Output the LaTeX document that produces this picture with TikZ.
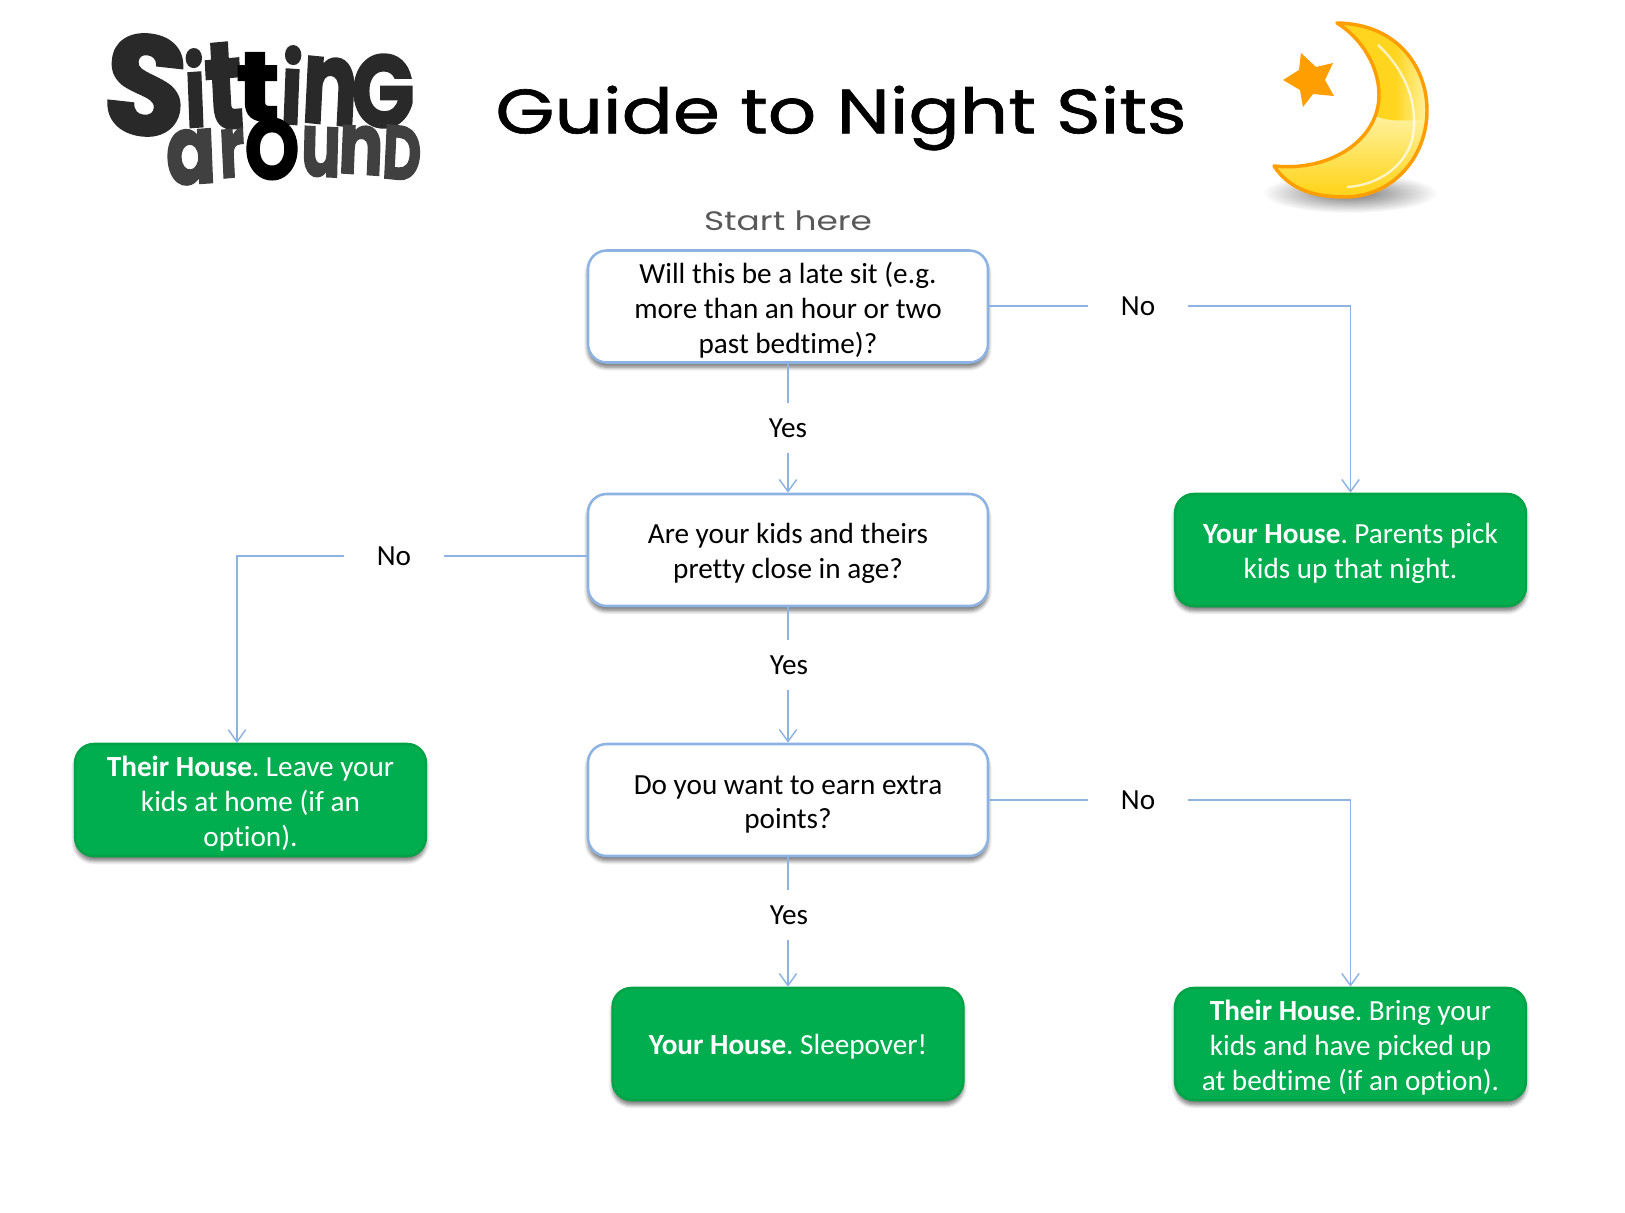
\documentclass[tikz,border=0pt]{standalone}
\usepackage{fontspec}
\setmainfont[Ligatures=NoCommon]{Carlito}
\newfontfamily\titlefont[FakeBold=1]{Poppins}
\newfontfamily\startfont{Poppins}
\newfontfamily\logofont[FakeBold=2]{Poppins Bold}
\usetikzlibrary{shadows.blur,arrows.meta,calc,fadings}
\definecolor{flowblue}{HTML}{8DB3E2}
\definecolor{flowgreen}{HTML}{00AE50}
\definecolor{flowgreenedge}{HTML}{00A346}
\definecolor{moonedge}{HTML}{FF9E00}
\definecolor{moongold}{HTML}{FFD51F}
\definecolor{moonpale}{HTML}{FFF3A5}
\newcommand{\logoletter}[8]{\node[logochar,text=#6,xscale=#3,yscale=#4,rotate=#5] (#7) at (#1,#2) {#8};}
\tikzset{
  x=0.75pt,y=-0.75pt,
  boxbase/.style={rounded corners=14pt,line width=1.9pt,minimum height=84pt,align=center,inner sep=0pt,
     font=\fontsize{21.9}{26.2}\selectfont\frenchspacing,
     blur shadow={shadow xshift=0pt,shadow yshift=-3.5pt,shadow blur steps=6,shadow blur radius=3pt,shadow opacity=55}},
  drop/.style={execute at begin node={\rule{0pt}{#1pt}}},
  question/.style={boxbase,draw=flowblue,fill=white,minimum width=300pt,text=black},
  answer/.style={boxbase,draw=flowgreenedge,fill=flowgreen,minimum width=263pt,text=white},
  elabel/.style={inner sep=0pt,minimum width=75pt,minimum height=37.5pt,font=\fontsize{21.9}{26}\selectfont,text=black},
  ylabel/.style={inner sep=0pt,minimum width=40pt,minimum height=37.5pt,font=\fontsize{21.9}{26}\selectfont,text=black},
  flow/.style={draw=flowblue,line width=1.1pt},
  flowarrow/.style={flow,-{Straight Barb[length=9pt,width=13pt,line width=1.1pt]}},
  logochar/.style={inner sep=0pt,outer sep=0pt,transform shape,font=\logofont\fontsize{100}{100}\selectfont},
}
\begin{document}
\begin{tikzpicture}
\useasboundingbox (0,0) rectangle (1625,1213);

% Logo
\logoletter{146}{85}{1.00}{1.05}{-6}{black!84}{l1}{S}
\logoletter{195}{88}{0.55}{0.73}{3}{black!84}{l2}{i}
\logoletter{224}{86}{0.70}{0.93}{4}{black!84}{l3}{t}
\logoletter{258}{87}{0.80}{0.74}{0}{black}{l4}{t}
\logoletter{292}{85}{0.55}{0.73}{-3}{black!84}{l5}{i}
\logoletter{330}{91}{0.62}{0.88}{-4}{black!84}{l6}{n}
\logoletter{383}{91}{0.62}{0.77}{0}{black!84}{l7}{G}
\logoletter{191}{157}{0.55}{0.72}{3}{black!75}{l8}{a}
\logoletter{232}{153}{0.45}{0.64}{4}{black!75}{l9}{r}
\logoletter{272}{149}{0.52}{0.64}{0}{black}{l10}{O}
\logoletter{321}{152}{0.44}{0.66}{-2}{black!75}{l11}{u}
\logoletter{361}{150}{0.50}{0.64}{-3}{black!75}{l12}{n}
\logoletter{402}{153}{0.40}{0.57}{-4}{black!75}{l13}{D}

% Title
\node[inner sep=0pt,xscale=1.21,transform shape,font=\titlefont\fontsize{47}{50}\selectfont] (title) at (841,118) {Guide to Night Sits};
\node[inner sep=0pt,text=black!65,xscale=1.29,transform shape,font=\startfont\fontsize{20}{24}\selectfont] (start) at (788,221) {Start here};

% Moon
\shade[inner color=black!55,outer color=white,draw=none] (1350,193) ellipse [x radius=88,y radius=20];
\begin{scope}
\clip (1337,23) .. controls (1400,24) and (1427,70) .. (1427,110) .. controls (1427,160) and (1390,197) .. (1345,197) .. controls (1315,197) and (1290,190) .. (1274,166) .. controls (1330,172) and (1379,140) .. (1379,95) .. controls (1379,65) and (1360,37) .. (1337,23) -- cycle;
\fill[moongold] (1260,15) rectangle (1440,205);
\shade[top color=moonpale,bottom color=moongold] (1260,112) rectangle (1440,190);
\fill[moongold] (1330,15) -- (1440,15) -- (1440,116) .. controls (1410,122) and (1390,122) .. (1375,116) -- cycle;
\shade[left color=moongold,right color=moonpale] (1395,40) rectangle (1428,120);
\draw[white,opacity=.7,line width=1.8pt] (1378,45) .. controls (1405,70) and (1420,105) .. (1412,140) .. controls (1405,165) and (1380,185) .. (1347,187);
\end{scope}
\draw[moonedge,line width=2.6pt,line join=round] (1337,23) .. controls (1400,24) and (1427,70) .. (1427,110) .. controls (1427,160) and (1390,197) .. (1345,197) .. controls (1315,197) and (1290,190) .. (1274,166) .. controls (1330,172) and (1379,140) .. (1379,95) .. controls (1379,65) and (1360,37) .. (1337,23) -- cycle;
\fill[moonedge] (1301,53) -- (1316,67) -- (1333,63) -- (1325,80) -- (1334,96) -- (1313,94) -- (1303,107) -- (1300,90) -- (1283,80) -- (1299,70) -- cycle;

% Boxes
\node[question,drop=73.5] (q1) at (788,306.5) {Will this be a late sit (e.g.\\more than an hour or two\\past bedtime)?};
\node[question,drop=46] (q2) at (788,550) {Are your kids and theirs\\pretty close in age?};
\node[question,drop=47] (q3) at (788,800) {Do you want to earn extra\\points?};
\node[answer,drop=46] (a1) at (1350.5,550) {\textbf{Your House}. Parents pick\\kids up that night.};
\node[answer,drop=73.5] (a2) at (250.5,800) {\textbf{Their House}. Leave your\\kids at home (if an\\option).};
\node[answer,drop=19.5] (a3) at (788,1044) {\textbf{Your House}. Sleepover!};
\node[answer,drop=73.5] (a4) at (1350.5,1044) {\textbf{Their House}. Bring your\\kids and have picked up\\at bedtime (if an option).};

% Labels
\node[elabel] (n1) at (1138,306) {No};
\node[elabel] (n2) at (394,556) {No};
\node[elabel] (n3) at (1138,800) {No};
\node[ylabel] (y1) at (788,428) {Yes};
\node[ylabel] (y2) at (789,665) {Yes};
\node[ylabel] (y3) at (789,915) {Yes};
\coordinate (a2in) at (237,743);

% Connectors
\draw[flow] (q1.east |- n1) -- (n1.west);
\draw[flowarrow] (n1.east) -| (a1.north);
\draw[flow] (q1.south) -- (q1.south |- y1.north);
\draw[flowarrow] (q1.south |- y1.south) -- (q2.north);
\draw[flow] (q2.west |- n2) -- (n2.east);
\draw[flowarrow] (n2.west) -| (a2in);
\draw[flow] (q2.south) -- (q2.south |- y2.north);
\draw[flowarrow] (q2.south |- y2.south) -- (q3.north);
\draw[flow] (q3.east |- n3) -- (n3.west);
\draw[flowarrow] (n3.east) -| (a4.north);
\draw[flow] (q3.south) -- (q3.south |- y3.north);
\draw[flowarrow] (q3.south |- y3.south) -- (a3.north);
\end{tikzpicture}
\end{document}
